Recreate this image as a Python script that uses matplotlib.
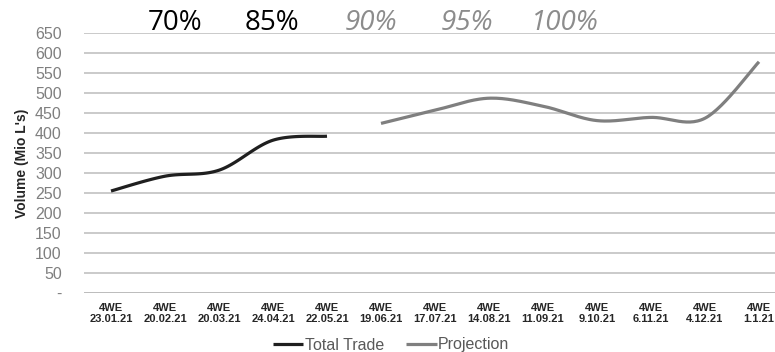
import numpy as np
import matplotlib.pyplot as plt

weeks = ["23.01.21", "20.02.21", "20.03.21", "24.04.21", "22.05.21", "19.06.21",
         "17.07.21", "14.08.21", "11.09.21", "9.10.21", "6.11.21", "4.12.21", "1.1.21"]
total_trade = [255, 292, 307, 382, 392]
projection = [424, 457, 487, 467, 431, 439, 437, 578]
pct_actual = ["70%", "85%"]
pct_planned = ["90%", "95%", "100%"]
pct_x = [175, 272, 371, 467, 565]  # pixel centres along the top


def smooth(xs, ys, n=30):
    # Bezier smoothing through every point (same style as office line charts)
    pts = np.column_stack([xs, ys]).astype(float)
    pad = np.vstack([pts[0], pts, pts[-1]])
    t = np.linspace(0, 1, n)[1:, None]
    out = [pts[0]]
    for i in range(len(pts) - 1):
        p0, p3 = pad[i + 1], pad[i + 2]
        c1 = p0 + (pad[i + 2] - pad[i]) / 6
        c2 = p3 - (pad[i + 3] - pad[i + 1]) / 6
        seg = (1 - t) ** 3 * p0 + 3 * (1 - t) ** 2 * t * c1 + 3 * (1 - t) * t ** 2 * c2 + t ** 3 * p3
        out.extend(seg)
    out = np.array(out)
    return out[:, 0], out[:, 1]


W, H = 775, 352
fig = plt.figure(figsize=(W / 100, H / 100), dpi=100)
ax = fig.add_axes([84 / W, 1 - 293 / H, 702 / W, 260 / H])

x_tt = np.arange(len(total_trade))
x_pr = np.arange(len(projection)) + len(total_trade)
sx, sy = smooth(x_tt, total_trade)
ax.plot(sx, sy, color="#1f1f1f", lw=2.3, solid_capstyle="butt", label="Total Trade")
sx, sy = smooth(x_pr, projection)
ax.plot(sx, sy, color="#7f7f7f", lw=2.3, solid_capstyle="butt", label="Projection")

ax.set_xlim(-0.5, len(weeks) - 0.5)
ax.set_ylim(0, 650)
yt = np.arange(0, 651, 50)
ax.set_yticks(yt)
ax.set_yticklabels(["-"] + [str(v) for v in yt[1:]], fontsize=11.5,
                   color="#7f7f7f", family="Liberation Sans")
ax.set_xticks(range(len(weeks)))
ax.set_xticklabels(["4WE\n" + w for w in weeks], fontsize=8, fontweight="bold",
                   color="#262626", family="Liberation Sans", linespacing=1.1)
ax.tick_params(axis="y", length=0, pad=16)
ax.tick_params(axis="x", length=0, pad=7)

for v in yt[1:]:
    ax.axhline(v, color="#c6c6c6", lw=1.3, zorder=0)
ax.axhline(0, color="#a8a8a8", lw=1.8, zorder=0)
for s in ax.spines.values():
    s.set_visible(False)

ax.set_ylabel("Volume (Mio L's)", fontsize=10, fontweight="bold", color="#262626",
              family="Liberation Sans")
ax.yaxis.set_label_coords(-0.078, 0.5)

for txt, x in zip(pct_actual, pct_x[:2]):
    fig.text(x / W, 1 - 23 / H, txt, ha="center", va="center", fontsize=20,
             family="Open Sans", color="black")
for txt, x in zip(pct_planned, pct_x[2:]):
    fig.text(x / W, 1 - 23 / H, txt, ha="center", va="center", fontsize=20,
             family="Open Sans", style="italic", color="#8c8c8c")

fig.legend(loc="center", bbox_to_anchor=(391 / W, 1 - 345 / H), ncol=2, frameon=False,
           handlelength=1.9, handletextpad=0.1, columnspacing=1.4,
           prop={"family": "Liberation Sans", "size": 11.5}, labelcolor="#595959")

fig.savefig("out.png", dpi=100)
